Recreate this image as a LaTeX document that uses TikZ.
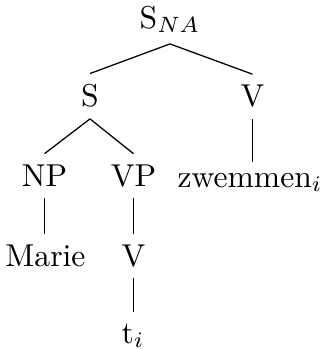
\documentclass[tikz,border=0pt]{standalone}
\begin{document}
\begin{tikzpicture}[x=0.316pt,y=-0.316pt,
  every node/.style={anchor=base, inner sep=0.3333em},
  edge/.style={draw=black, line width=0.4pt}]
\useasboundingbox (0,0) rectangle (324,349);
\node (sna) at (170,28) {S$_{NA}$};
\node (s) at (90,107) {S};
\node (v) at (252.5,107) {V};
\node (np) at (44.5,186.5) {NP};
\node (vp) at (133.5,186.5) {VP};
\node (zw) at (250,187) {zwemmen$_i$};
\node (marie) at (45.5,266.5) {Marie};
\node (v2) at (133.5,266.5) {V};
\node (t) at (133,343) {t$_i$};
\draw[edge] (sna.south) -- (s.north);
\draw[edge] (sna.south) -- (v.north);
\draw[edge] (s.south) -- (np.north);
\draw[edge] (s.south) -- (vp.north);
\draw[edge] (v.south) -- (v.south |- zw.north);
\draw[edge] (np.south) -- (np.south |- marie.north);
\draw[edge] (vp.south) -- (v2.north);
\draw[edge] (v2.south) -- (v2.south |- t.north);
\end{tikzpicture}
\end{document}
